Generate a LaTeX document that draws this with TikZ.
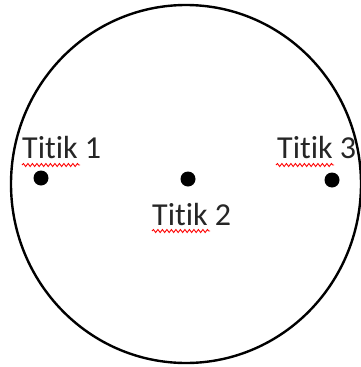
\documentclass[tikz,border=0pt]{standalone}
\usepackage{fontspec}
\setmainfont[Ligatures={NoCommon}]{Carlito}
\usetikzlibrary{decorations.pathmorphing}
\begin{document}
\begin{tikzpicture}[x=1pt,y=-1pt,
  dotmark/.style={circle,fill=black,inner sep=0pt,minimum size=15pt},
  label/.style={anchor=base west,inner sep=0pt,font=\fontsize{32}{38}\selectfont,text=black!85},
  squiggle/.style={red,line width=0.9pt,decorate,decoration={snake,amplitude=1.5pt,segment length=4.5pt}}]
\useasboundingbox (0,0) rectangle (361,367);
\draw[line width=2.4pt] (186,184) ellipse [x radius=175, y radius=179];
\node[dotmark] (d1) at (41,178) {};
\node[dotmark] (d2) at (188,179) {};
\node[dotmark] (d3) at (332,180) {};
\node[label] (t1) at (22,158) {Titik 1};
\node[label] (t2) at (152,225) {Titik 2};
\node[label] (t3) at (277,158) {Titik 3};
\coordinate (s1a) at (22,165); \coordinate (s1b) at (80,165);
\coordinate (s2a) at (152,231); \coordinate (s2b) at (210,231);
\coordinate (s3a) at (276,165); \coordinate (s3b) at (334,165);
\draw[squiggle] (s1a) -- (s1b);
\draw[squiggle] (s2a) -- (s2b);
\draw[squiggle] (s3a) -- (s3b);
\end{tikzpicture}
\end{document}
